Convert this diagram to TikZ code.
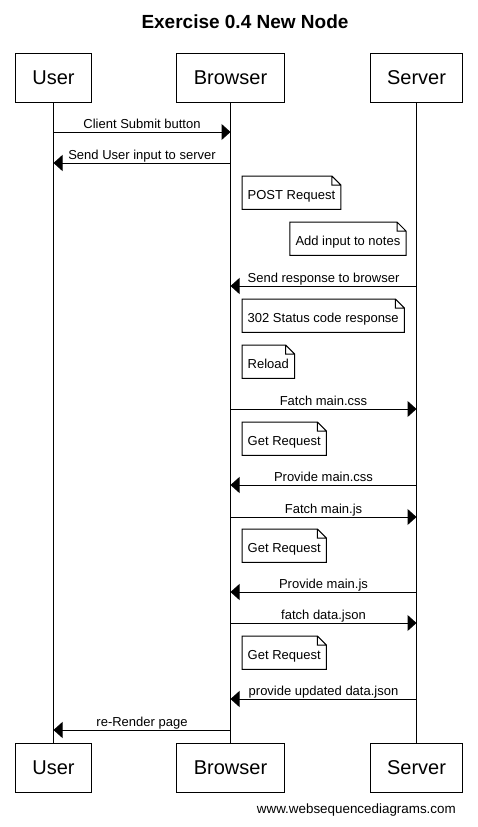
\documentclass[tikz,border=0pt]{standalone}
\usepackage{fontspec}
\setmainfont{Liberation Sans}
\usetikzlibrary{arrows.meta,positioning,calc}
\newcommand{\msgfont}{\fontsize{13}{15}\selectfont}
\newcommand{\actorfont}{\fontsize{20}{24}\selectfont}

\tikzset{
  actor/.style={draw, line width=1pt, minimum height=49pt, inner xsep=17pt, font=\actorfont},
  lifeline/.style={line width=1pt},
  msg/.style={line width=1pt, -{Triangle[length=9pt,width=16pt]}},
  msglabel/.style={font=\msgfont, anchor=base, yshift=3.5pt, inner sep=0pt},
  note/.style={font=\msgfont, inner xsep=5.5pt, inner ysep=0pt, minimum height=33pt,
    text height=13pt, text depth=0pt},
}

\begin{document}
\begin{tikzpicture}[x=1pt,y=-1pt]
  \useasboundingbox (0,0) rectangle (478,827);
  \node[font=\bfseries\fontsize{19}{23}\selectfont, anchor=base] (title) at (245,28) {Exercise 0.4 New Node};

  % participants
  \node[actor] (userT) at (53.5,77.5) {User};
  \node[actor] (browserT) at (230.5,77.5) {Browser};
  \node[actor] (serverT) at (416.5,77.5) {Server};
  \node[actor] (userB) at (53.5,767.5) {User};
  \node[actor] (browserB) at (230.5,767.5) {Browser};
  \node[actor] (serverB) at (416.5,767.5) {Server};
  \foreach \p in {user,browser,server}
    \draw[lifeline] (\p T.south) -- (\p B.north);

  % messages
  \foreach \y/\a/\b/\t in {132/user/browser/Client Submit button,
      163/browser/user/Send User input to server,
      286/server/browser/Send response to browser,
      409/browser/server/Fatch main.css,
      485/server/browser/Provide main.css,
      517/browser/server/Fatch main.js,
      592/server/browser/Provide main.js,
      623/browser/server/fatch data.json,
      699/server/browser/provide updated data.json,
      730/browser/user/re-Render page}
    \draw[msg] (\a T.south |- 0,\y) -- node[msglabel] {\t} (\b T.south |- 0,\y);

  % notes
  \node[note, anchor=north west] (post) at (242,176) {POST Request};
  \node[note, anchor=north east] (addnote) at (406,222) {Add input to notes};
  \node[note, anchor=north west] (status) at (242,299) {302 Status code response};
  \node[note, anchor=north west] (reload) at (242,345) {Reload};
  \node[note, anchor=north west] (getcss) at (242,422) {Get Request};
  \node[note, anchor=north west] (getjs) at (242,529) {Get Request};
  \node[note, anchor=north west] (getjson) at (242,636) {Get Request};
  \foreach \n in {post,addnote,status,reload,getcss,getjs,getjson}
    \draw[line width=1pt] (\n.north west) -- ([xshift=-9pt]\n.north east) -- ([yshift=-9pt]\n.north east)
      -- (\n.south east) -- (\n.south west) -- cycle
      ([xshift=-9pt]\n.north east) |- ([yshift=-9pt]\n.north east);

  \node[font=\fontsize{13.4}{15}\selectfont, anchor=base east, inner sep=0pt] (credit) at (456,813) {www.websequencediagrams.com};
\end{tikzpicture}
\end{document}
